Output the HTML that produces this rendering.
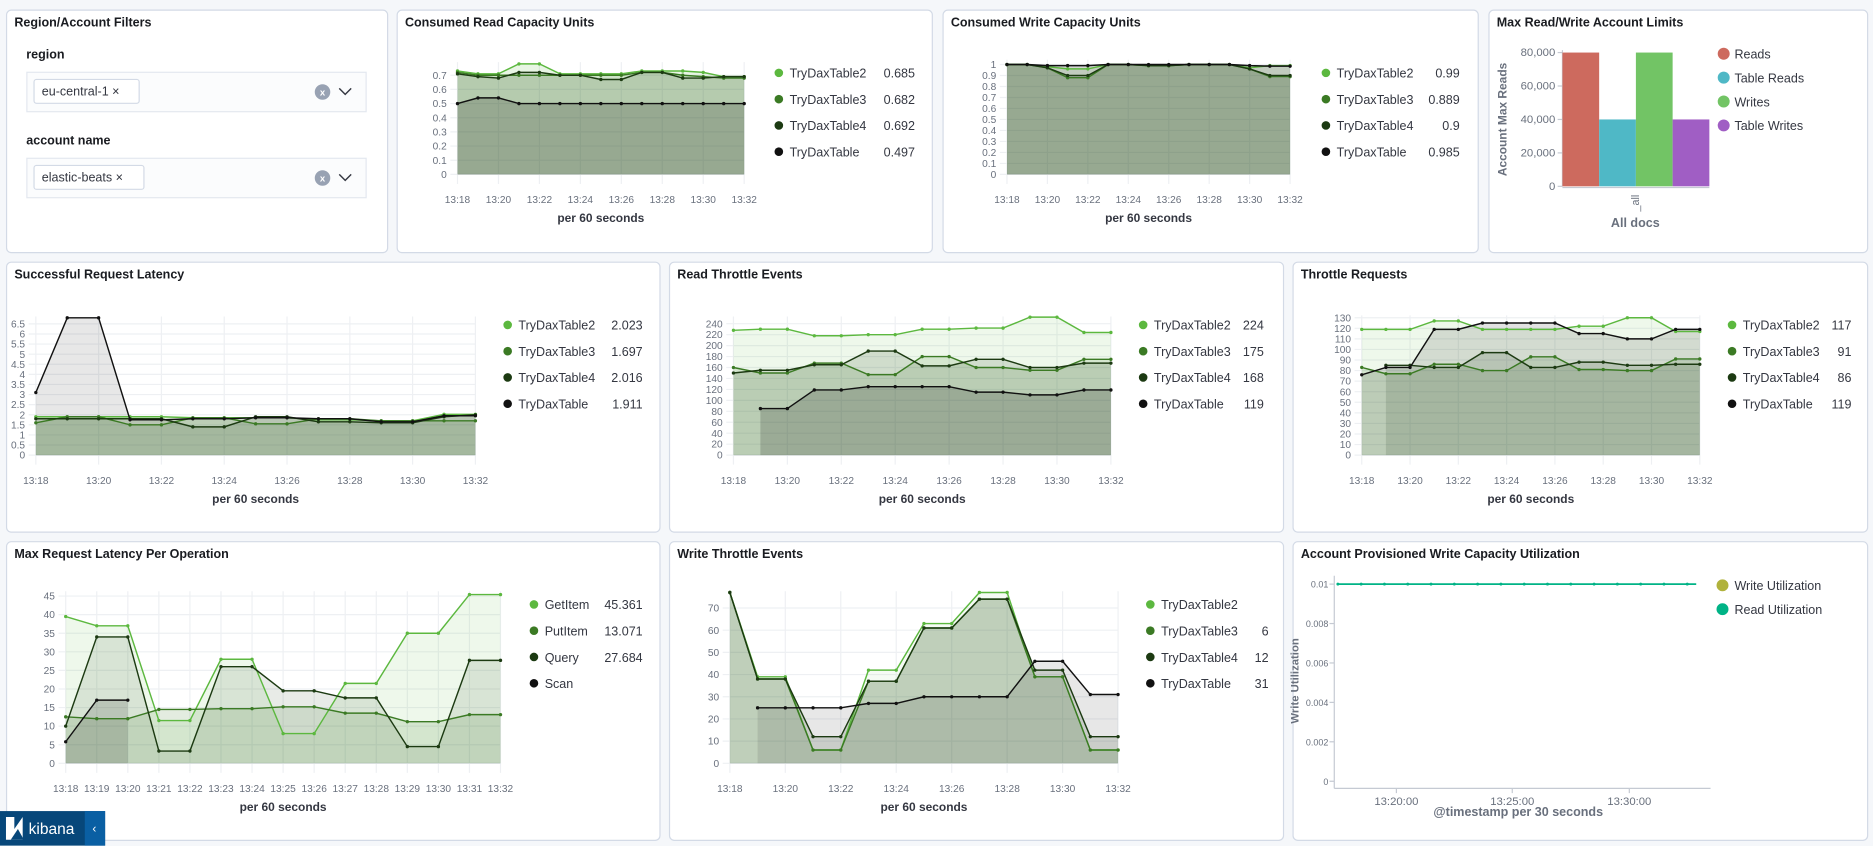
<!DOCTYPE html>
<html><head><meta charset="utf-8"><style>
html,body{margin:0;padding:0;background:#f5f7fa;overflow:hidden}
#wrap{width:1568px;height:708px;transform:scale(1.19452);transform-origin:0 0;position:relative}
svg{position:absolute;left:0;top:0;font-family:"Liberation Sans",sans-serif}
</style></head><body><div id="wrap"><svg id="s" width="1568" height="708" viewBox="0 0 1568 708"></svg></div>
<script>
const S=document.getElementById('s');let h='';
const C2='#5cb83f',C3='#3b7a24',C4='#1c3a12',C1='#111';
function panel(x1,y1,x2,y2,t){h+=`<rect x="${x1+.5}" y="${y1+.5}" width="${x2-x1}" height="${y2-y1}" rx="4" fill="#fff" stroke="#d3dae6"/>`;
h+=`<text x="${x1+7}" y="${y1+14}" font-size="10.5" font-weight="bold" fill="#1a1c21">${t}</text>`;}
function txt(x,y,s,o){o=o||{};h+=`<text x="${x}" y="${y}" font-size="${o.fs||8.5}" fill="${o.c||'#69707d'}" text-anchor="${o.a||'start'}" ${o.w?'font-weight="bold"':''} ${o.tr?'transform="'+o.tr+'"':''}>${s}</text>`;}
function chart(o){const n=o.n||15;const X=i=>o.x0+(o.x1-o.x0)*i/(n-1);const Y=v=>o.y0-v*o.ppu;
 for(const t of o.yt){const y=Y(t);h+=`<line x1="${o.x0-6}" x2="${o.x1}" y1="${y}" y2="${y}" stroke="#eef0f3"/>`;txt(o.x0-9,y+3,o.yf?o.yf(t):t,{a:'end'});}
 for(let i=0;i<n;i+=o.xs){const x=X(i);h+=`<line x1="${x}" x2="${x}" y1="${o.top}" y2="${o.y0+8}" stroke="#eef0f3"/>`;
  const m=18+i;txt(x,o.y0+24,'13:'+m,{a:'middle'});}
 h+=`<line x1="${o.x0}" x2="${o.x1}" y1="${o.y0}" y2="${o.y0}" stroke="#e4e7eb"/>`;
 txt((o.x0+o.x1)/2,o.y0+40,'per 60 seconds',{a:'middle',c:'#343741',w:1,fs:10});
 for(const s of o.s){let seg=[];const segs=[];s.d.forEach((v,i)=>{if(v==null){if(seg.length)segs.push(seg);seg=[];}else seg.push([X(i),Y(v)]);});if(seg.length)segs.push(seg);
  for(const g of segs){const p=g.map(a=>a.join(',')).join(' ');
   h+=`<polygon points="${g[0][0]},${o.y0} ${p} ${g[g.length-1][0]},${o.y0}" fill="${s.c}" fill-opacity="${s.fo||0.14}"/>`;}
  s.segs=segs;}
 for(const s of o.s){for(const g of s.segs){h+=`<polyline points="${g.map(a=>a.join(',')).join(' ')}" fill="none" stroke="${s.c}" stroke-width="1.2"/>`;
  for(const a of g)h+=`<circle cx="${a[0]}" cy="${a[1]}" r="1.4" fill="${s.c}"/>`;}}
 o.lg.forEach((l,i)=>{const y=o.ly+i*22;h+=`<circle cx="${o.lx}" cy="${y}" r="3.6" fill="${l[0]}"/>`;txt(o.lx+9,y+4,l[1],{c:'#343741',fs:10.5});if(l[2])txt(o.lv,y+4,l[2],{a:'end',c:'#343741',fs:10.5});});
}
const R=(a,b,s)=>{const r=[];for(let v=a;v<=b+1e-9;v+=s)r.push(+v.toFixed(3));return r;};
panel(5,8,324,211,'Region/Account Filters');
panel(332,8,780,211,'Consumed Read Capacity Units');
panel(789,8,1237,211,'Consumed Write Capacity Units');
panel(1246,8,1563,211,'Max Read/Write Account Limits');
panel(5,219,552,445,'Successful Request Latency');
panel(560,219,1074,445,'Read Throttle Events');
panel(1082,219,1563,445,'Throttle Requests');
panel(5,453,552,703,'Max Request Latency Per Operation');
panel(560,453,1074,703,'Write Throttle Events');
panel(1082,453,1563,703,'Account Provisioned Write Capacity Utilization');
function combo(y,lab,pill,pw){txt(22,y-11,lab,{c:'#1a1c21',fs:10.5,w:1});
 h+=`<rect x="22.5" y="${y+.5}" width="284" height="33" fill="#fbfcfd" stroke="#e3e8ef"/>`;
 h+=`<rect x="28.5" y="${y+6.5}" width="${pw}" height="20" rx="2" fill="#fff" stroke="#d3dae6"/>`;
 txt(35,y+20,pill+' ×',{c:'#343741',fs:10.5});
 h+=`<circle cx="270" cy="${y+17}" r="6.5" fill="#98a2b3"/><text x="270" y="${y+20}" font-size="8" fill="#fff" text-anchor="middle" font-weight="bold">x</text>`;
 h+=`<polyline points="284,${y+14} 289,${y+19} 294,${y+14}" fill="none" stroke="#343741" stroke-width="1.2"/>`;}
combo(60,'region','eu-central-1',88);combo(132,'account name','elastic-beats',92);
chart({x0:383,x1:623,y0:146,ppu:118.6,top:52,yt:R(0,.7,.1),xs:2,lx:652,ly:61,lv:766,
 s:[{c:C2,d:[.73,.71,.71,.78,.78,.71,.71,.71,.71,.73,.73,.73,.72,.69,.69]},
 {c:C3,d:[.72,.70,.70,.70,.70,.70,.70,.70,.70,.72,.72,.70,.69,.68,.68]},
 {c:C4,d:[.71,.69,.68,.72,.72,.70,.70,.67,.67,.72,.72,.68,.68,.69,.69]},
 {c:C1,d:[.50,.54,.54,.50,.50,.50,.50,.50,.50,.50,.50,.50,.50,.50,.50],fo:.18}],
 lg:[[C2,'TryDaxTable2','0.685'],[C3,'TryDaxTable3','0.682'],[C4,'TryDaxTable4','0.692'],[C1,'TryDaxTable','0.497']]});
chart({x0:843,x1:1080,y0:146,ppu:92,top:50,yt:R(0,1,.1),xs:2,lx:1110,ly:61,lv:1222,
 s:[{c:C2,d:[1,1,.98,.96,.96,1,1,.99,.99,1,1,1,.97,.99,.99]},
 {c:C3,d:[1,1,.97,.88,.88,1,1,.99,.99,1,1,1,.96,.89,.89]},
 {c:C4,d:[1,1,.97,.90,.90,1,1,.99,.99,1,1,1,.96,.90,.90]},
 {c:C1,d:[1,1,.99,.99,.99,1,1,1,1,1,1,1,.99,.985,.985],fo:.18}],
 lg:[[C2,'TryDaxTable2','0.99'],[C3,'TryDaxTable3','0.889'],[C4,'TryDaxTable4','0.9'],[C1,'TryDaxTable','0.985']]});
{const y0=156,pp=112/80000;[0,20000,40000,60000,80000].forEach(v=>{const y=y0-v*pp;h+=`<line x1="1304" x2="1308" y1="${y}" y2="${y}" stroke="#c5cad3"/>`;txt(1302,y+3,v.toLocaleString('en-US'),{a:'end',fs:9.5});});
 h+=`<line x1="1308" x2="1308" y1="42" y2="${y0}" stroke="#c5cad3"/><line x1="1308" x2="1431" y1="${y0+1}" y2="${y0+1}" stroke="#c5cad3"/>`;
 [['#cd6a5e',80000],['#4fb8c6',40000],['#72c465',80000],['#a05ec4',40000]].forEach((b,i)=>{h+=`<rect x="${1308+i*30.75}" y="${y0-b[1]*pp}" width="30.75" height="${b[1]*pp}" fill="${b[0]}"/>`;});
 txt(1261,100,'Account Max Reads',{a:'middle',c:'#69707d',w:1,fs:10,tr:'rotate(-90 1261 100)'});
 txt(1372,170,'_all',{a:'middle',fs:9,tr:'rotate(-90 1372 170)'});
 txt(1369,190,'All docs',{a:'middle',c:'#69707d',w:1,fs:10.5});
 [['#cd6a5e','Reads'],['#4fb8c6','Table Reads'],['#72c465','Writes'],['#a05ec4','Table Writes']].forEach((l,i)=>{const y=45+i*20;h+=`<circle cx="1443" cy="${y}" r="5" fill="${l[0]}"/>`;txt(1452,y+4,l[1],{c:'#343741',fs:10.5});});}
chart({x0:30,x1:398,y0:381,ppu:16.9,top:265,yt:R(0,6.5,.5),xs:2,lx:425,ly:272,lv:538,
 s:[{c:C2,d:[1.9,1.9,1.9,1.9,1.9,1.85,1.85,1.85,1.85,1.75,1.75,1.7,1.7,2.02,2.02]},
 {c:C3,d:[1.6,1.9,1.9,1.5,1.5,1.85,1.85,1.55,1.55,1.8,1.8,1.7,1.7,1.7,1.7]},
 {c:C4,d:[1.8,1.8,1.8,1.8,1.8,1.4,1.4,1.9,1.9,1.65,1.65,1.6,1.6,1.9,2.0]},
 {c:C1,d:[3.1,6.8,6.8,1.75,1.75,1.8,1.8,1.85,1.85,1.8,1.8,1.65,1.65,1.95,1.95],fo:.1}],
 lg:[[C2,'TryDaxTable2','2.023'],[C3,'TryDaxTable3','1.697'],[C4,'TryDaxTable4','2.016'],[C1,'TryDaxTable','1.911']]});
chart({x0:614,x1:930,y0:381,ppu:110/240,top:265,yt:R(0,240,20),xs:2,lx:957,ly:272,lv:1058,
 s:[{c:C2,d:[228,230,230,218,218,220,220,230,230,232,232,252,252,224,224],fo:.1},
 {c:C3,d:[160,150,150,168,168,147,147,180,180,160,160,155,155,175,175]},
 {c:C4,d:[150,155,155,165,165,190,190,163,163,175,175,160,160,168,168]},
 {c:C1,d:[null,85,85,119,119,125,125,125,125,115,115,110,110,119,119],fo:.18}],
 lg:[[C2,'TryDaxTable2','224'],[C3,'TryDaxTable3','175'],[C4,'TryDaxTable4','168'],[C1,'TryDaxTable','119']]});
chart({x0:1140,x1:1423,y0:381,ppu:115/130,top:264,yt:R(0,130,10),xs:2,lx:1450,ly:272,lv:1550,
 s:[{c:C2,d:[119,119,119,127,127,119,119,119,119,122,122,130,130,117,117],fo:.1},
 {c:C3,d:[83,77,77,86,86,80,80,93,93,81,81,80,80,91,91]},
 {c:C4,d:[null,85,85,83,83,97,97,83,83,88,88,85,85,86,86]},
 {c:C1,d:[76,83,83,119,119,125,125,125,125,115,115,110,110,119,119],fo:.12}],
 lg:[[C2,'TryDaxTable2','117'],[C3,'TryDaxTable3','91'],[C4,'TryDaxTable4','86'],[C1,'TryDaxTable','119']]});
chart({x0:55,x1:419,y0:639,ppu:140/45,top:495,yt:R(0,45,5),xs:1,lx:447,ly:506,lv:538,
 s:[{c:C2,d:[39.5,37,37,11.5,11.5,28,28,8,8,21.5,21.5,35,35,45.4,45.4],fo:.1},
 {c:C3,d:[12.5,12,12,14.5,14.5,14.7,14.7,15.2,15.2,13.5,13.5,11.2,11.2,13.1,13.1]},
 {c:C4,d:[10,34,34,3.3,3.3,26,26,19.5,19.5,17.6,17.6,4.5,4.5,27.7,27.7],fo:.1},
 {c:C1,d:[5.8,17,17,null,null,null,null,null,null,null,null,null,null,null,null],fo:.15}],
 lg:[[C2,'GetItem','45.361'],[C3,'PutItem','13.071'],[C4,'Query','27.684'],[C1,'Scan','']]});
chart({x0:611,x1:936,y0:639,ppu:130/70,top:495,yt:R(0,70,10),xs:2,lx:963,ly:506,lv:1062,
 s:[{c:C2,d:[77,39,39,6,6,42,42,63,63,77,77,39,39,6,6],fo:.06},
 {c:C3,d:[77,38,38,6,6,37,37,61,61,74,74,39,39,6,6]},
 {c:C4,d:[77,38,38,12,12,37,37,61,61,74,74,42,42,12,12]},
 {c:C1,d:[null,25,25,25,25,27,27,30,30,30,30,46,46,31,31],fo:.1}],
 lg:[[C2,'TryDaxTable2',''],[C3,'TryDaxTable3','6'],[C4,'TryDaxTable4','12'],[C1,'TryDaxTable','31']]});
{const y0=654,pp=165/0.01;[0,.002,.004,.006,.008,.01].forEach(v=>{const y=y0-v*pp;h+=`<line x1="1113" x2="1117" y1="${y}" y2="${y}" stroke="#c5cad3"/>`;txt(1112,y+3,v,{a:'end',fs:7.5});});
 h+=`<line x1="1117" x2="1117" y1="482" y2="660" stroke="#c5cad3"/><line x1="1117" x2="1432" y1="660" y2="660" stroke="#c5cad3"/>`;
 [[1169,'13:20:00'],[1266,'13:25:00'],[1364,'13:30:00']].forEach(t=>{h+=`<line x1="${t[0]}" x2="${t[0]}" y1="660" y2="664" stroke="#c5cad3"/>`;txt(t[0],674,t[1],{a:'middle',fs:9.5});});
 h+=`<line x1="1120" x2="1420" y1="489" y2="489" stroke="#00b386" stroke-width="1.5"/>`;
 for(let x=1120;x<=1420;x+=19.5)h+=`<circle cx="${x}" cy="489" r="1.2" fill="#00b386"/>`;
 txt(1087,570,'Write Utilization',{a:'middle',w:1,fs:9.5,tr:'rotate(-90 1087 570)'});
 txt(1271,683,'@timestamp per 30 seconds',{a:'middle',w:1,fs:10.5});
 [['#b0b23c','Write Utilization'],['#00b386','Read Utilization']].forEach((l,i)=>{const y=490+i*20;h+=`<circle cx="1442" cy="${y}" r="5" fill="${l[0]}"/>`;txt(1452,y+4,l[1],{c:'#343741',fs:10.5});});}
h+=`<rect x="0" y="679" width="88" height="29" fill="#07477a"/><rect x="71" y="679" width="17" height="29" fill="#0a5fa3"/>`;
h+=`<polygon points="5,684 12,684 12,694 19,684 19,703 5,703" fill="#fff"/><polygon points="9,703 15,694 20,703" fill="#07477a"/>`;
h+=`<text x="24" y="698" font-size="13" fill="#fff">kibana</text><text x="79" y="697" font-size="10" fill="#fff" text-anchor="middle">‹</text>`;
S.innerHTML=h;
</script></body></html>
